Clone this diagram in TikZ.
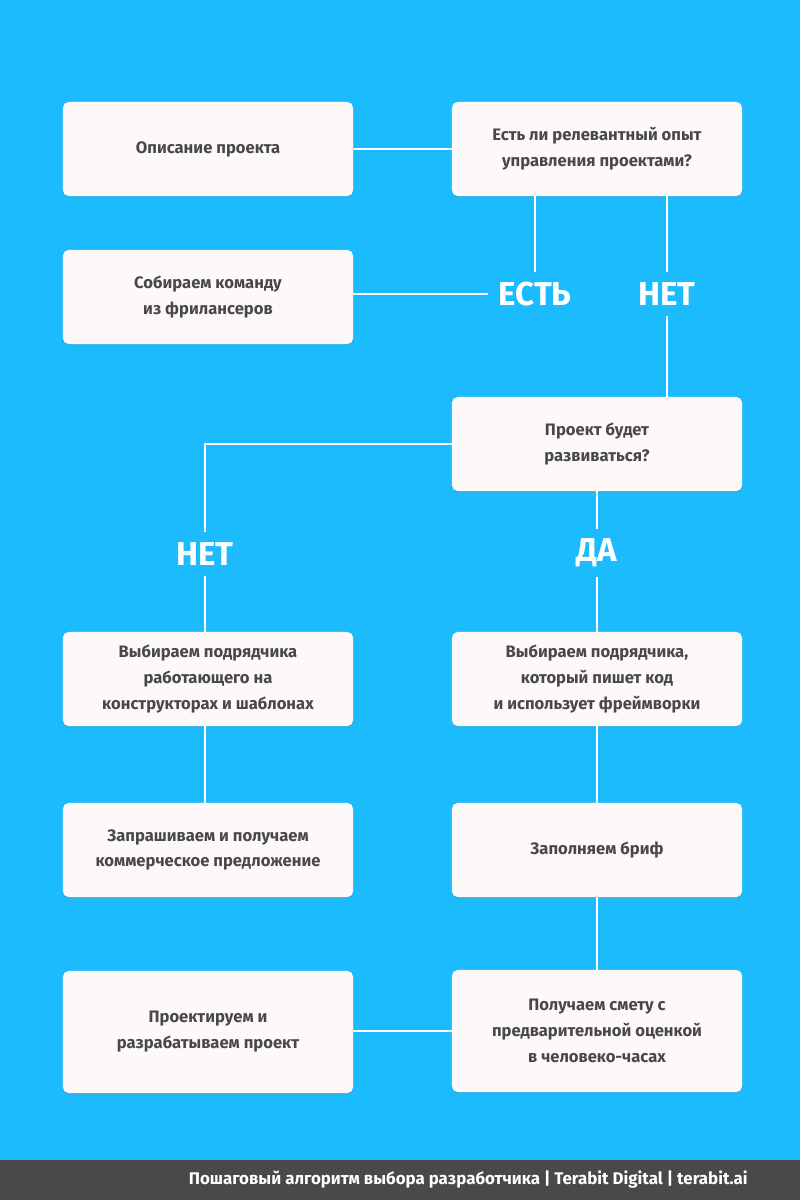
\documentclass[tikz,border=0pt]{standalone}
\usepackage{fontspec}
\setmainfont{Fira Sans}
\usetikzlibrary{shadows}
\definecolor{skyblue}{HTML}{1CBBFE}
\definecolor{boxfill}{HTML}{FCF9F8}
\definecolor{boxtext}{HTML}{484848}
\definecolor{footgray}{HTML}{4A4849}
\tikzset{
  stepbox/.style={fill=boxfill, rounded corners=4pt, minimum width=7.25cm, minimum height=2.35cm,
    align=center, text=boxtext, font=\fontsize{11.8}{18.4}\selectfont\bfseries,
    drop shadow={shadow xshift=0pt, shadow yshift=-1.5pt, opacity=0.18}},
  tallbox/.style={stepbox, minimum height=3.05cm},
  answer/.style={text=white, font=\fontsize{23.5}{25}\selectfont\bfseries, inner sep=7pt},
  link/.style={white, line width=1.8pt}
}
\begin{document}
\begin{tikzpicture}[x=0.025cm, y=-0.025cm]
  \fill[skyblue] (0,0) rectangle (800,1160);
  \fill[footgray] (0,1160) rectangle (800,1200);
  \useasboundingbox (0,0) rectangle (800,1200);

  \node[stepbox] (desc) at (208,149) {Описание проекта};
  \node[stepbox] (exp) at (597,149) {Есть ли релевантный опыт\\управления проектами?};
  \node[stepbox] (team) at (208,297) {Собираем команду\\из фрилансеров};
  \node[stepbox] (grow) at (597,444) {Проект будет\\развиваться?};
  \node[stepbox] (tpl) at (208,679) {Выбираем подрядчика\\работающего на\\конструкторах и шаблонах};
  \node[stepbox] (code) at (597,679) {Выбираем подрядчика,\\который пишет код\\и использует фреймворки};
  \node[stepbox] (offer) at (208,850) {Запрашиваем и получаем\\коммерческое предложение};
  \node[stepbox] (brief) at (597,850) {Заполняем бриф};
  \node[tallbox] (build) at (208,1032) {Проектируем и\\разрабатываем проект};
  \node[tallbox] (est) at (597,1031) {Получаем смету с\\предварительной оценкой\\в человеко-часах};

  \node[answer] (yes) at (535,294) {ЕСТЬ};
  \node[answer] (noR) at (667,294) {НЕТ};
  \node[answer] (noL) at (205,554) {НЕТ};
  \node[answer] (da) at (597,553) {ДА};

  \draw[link] (desc.east) -- (exp.west);
  \draw[link] (exp.south -| yes) -- (yes.north);
  \draw[link] (yes.west) -- (yes.west -| team.east);
  \draw[link] (exp.south -| noR) -- (noR.north);
  \draw[link] (noR.south) -- (noR.south |- grow.north);
  \draw[link] (grow.west) -| (noL.north);
  \draw[link] (noL.south) -- (noL.south |- tpl.north);
  \draw[link] (grow.south) -- (da.north);
  \draw[link] (da.south) -- (code.north);
  \draw[link] (tpl.south -| noL) -- (offer.north -| noL);
  \draw[link] (code.south) -- (brief.north);
  \draw[link] (brief.south) -- (est.north);
  \draw[link] (est.west) -- (est.west -| build.east);

  \node[anchor=east, text=white, font=\fontsize{12}{14}\selectfont\bfseries, inner sep=0pt] (foot) at (748,1180)
    {Пошаговый алгоритм выбора разработчика | Terabit Digital | terabit.ai};
\end{tikzpicture}
\end{document}
